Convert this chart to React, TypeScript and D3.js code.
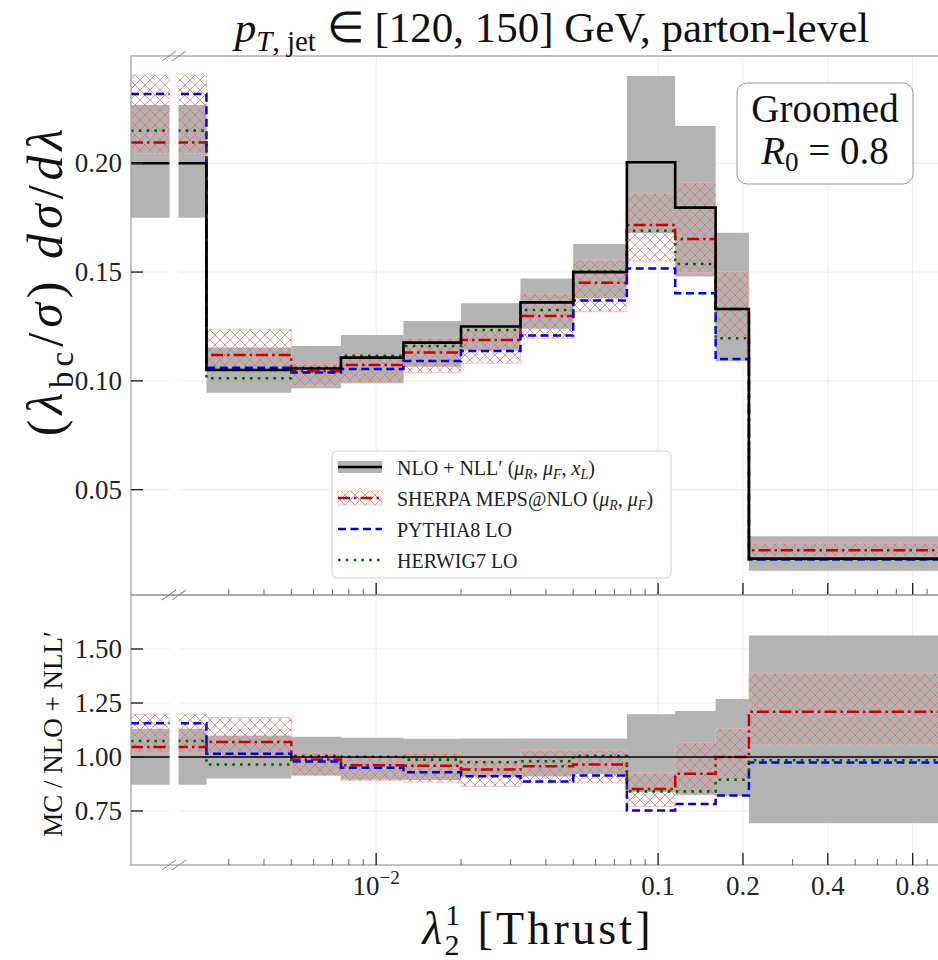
import React, { useRef, useEffect } from "react";
import * as d3 from "d3";

// bin edges in lambda_2^1 ; the first bin starts at the axis break
const binEdges = [0, 0.0025, 0.005, 0.0075, 0.0125, 0.02, 0.0325, 0.05, 0.0775, 0.115, 0.16, 0.21, 1];
const xLo = 0.00135;
const breakLo = 0.00185;
const breakHi = 0.00199;
const xMajor = [0.01, 0.1, 0.2, 0.4, 0.8];
const xMajorLabels = ["10^-2", "0.1", "0.2", "0.4", "0.8"];
const xMinor = [0.003, 0.004, 0.005, 0.006, 0.007, 0.008, 0.009, 0.02, 0.03, 0.04, 0.05, 0.06, 0.07, 0.08, 0.09, 0.3, 0.5, 0.6, 0.7, 0.9];

// main panel
const topTicks = [0.05, 0.1, 0.15, 0.2];
const nloCentral = [0.2, 0.105, 0.1057, 0.1107, 0.1176, 0.125, 0.1361, 0.15, 0.2005, 0.1796, 0.133, 0.0183];
const nloLow = [0.175, 0.0945, 0.0966, 0.0989, 0.1065, 0.114, 0.124, 0.138, 0.168, 0.148, 0.109, 0.0128];
const nloHigh = [0.2268, 0.1153, 0.116, 0.1211, 0.1275, 0.1357, 0.1471, 0.1629, 0.2401, 0.2171, 0.1681, 0.0286];
const sherpa = [0.2095, 0.1119, 0.1044, 0.1073, 0.113, 0.1188, 0.1298, 0.1451, 0.1716, 0.1652, 0.133, 0.0222];
const sherpaLow = [0.2046, 0.105, 0.0977, 0.0992, 0.1038, 0.1081, 0.1196, 0.1318, 0.1552, 0.1497, 0.1196, 0.0195];
const sherpaHigh = [0.2406, 0.1237, 0.1084, 0.1119, 0.12, 0.1234, 0.1402, 0.1556, 0.1862, 0.1911, 0.1502, 0.0255];
const pythia = [0.2318, 0.106, 0.1038, 0.1055, 0.1091, 0.1137, 0.1208, 0.1369, 0.1517, 0.1403, 0.11, 0.0179];
const herwig = [0.215, 0.1012, 0.106, 0.1115, 0.116, 0.1234, 0.1326, 0.1502, 0.169, 0.1537, 0.1196, 0.018];

// ratio panel
const ratioTicks = [0.75, 1.0, 1.25, 1.5];
const ratioNlo = [1, 1, 1, 1, 1, 1, 1, 1, 1, 1, 1, 1];
const ratioNloLow = [0.872, 0.9, 0.914, 0.895, 0.893, 0.91, 0.91, 0.92, 0.838, 0.825, 0.82, 0.693];
const ratioNloHigh = [1.131, 1.1, 1.094, 1.089, 1.085, 1.086, 1.086, 1.086, 1.198, 1.213, 1.268, 1.563];
const ratioSherpa = [1.046, 1.069, 0.988, 0.962, 0.96, 0.942, 0.957, 0.965, 0.852, 0.922, 1.0, 1.21];
const ratioSherpaLow = [1.02, 1.0, 0.914, 0.89, 0.883, 0.864, 0.88, 0.88, 0.771, 0.825, 0.895, 1.055];
const ratioSherpaHigh = [1.198, 1.183, 1.02, 1.004, 1.022, 0.99, 1.032, 1.032, 0.926, 1.066, 1.131, 1.388];
const ratioPythia = [1.156, 1.015, 0.979, 0.95, 0.929, 0.911, 0.887, 0.914, 0.752, 0.782, 0.822, 0.975];
const ratioHerwig = [1.074, 0.965, 1.004, 1.001, 0.988, 0.976, 0.98, 1.004, 0.841, 0.841, 0.895, 0.985];

const legendItems = ["NLO", "SHERPA", "PYTHIA", "HERWIG"];

const font = "'Liberation Serif', serif";
const red = "#cc0000";
const blue = "#0000e6";
const green = "#006400";
const gray = "#b3b3b3";

const App = () => {
  const svgRef = useRef<SVGSVGElement>(null);

  useEffect(() => {
    document.body.style.margin = "0";
    const svg = d3.select(svgRef.current);
    svg.selectAll("*").remove();

    const x = d3.scaleLog().domain([xLo, 1]).range([131, 940]);
    const yTop = d3.scaleLinear().domain([0.0016, 0.2493]).range([595, 56]);
    const yBot = d3.scaleLinear().domain([0.5, 1.75]).range([865, 595]);
    const edge = (i: number) => Math.max(binEdges[i], xLo);

    const defs = svg.append("defs");
    const pat = defs.append("pattern").attr("id", "hatch")
      .attr("patternUnits", "userSpaceOnUse").attr("width", 10).attr("height", 10);
    pat.append("path").attr("d", "M0,0L10,10M10,0L0,10M-2,8L2,12M8,-2L12,2M-2,2L2,-2M8,12L12,8")
      .attr("stroke", "#e07070").attr("stroke-width", 0.8).attr("fill", "none");

    //step points from bin values
    const steps = (vals: number[]) => {
      const pts: [number, number][] = [];
      vals.forEach((v, i) => { pts.push([edge(i), v]); pts.push([edge(i + 1), v]); });
      return pts;
    };
    const bandPts = (lo: number[], hi: number[]) => {
      const pts: [number, number, number][] = [];
      lo.forEach((v, i) => { pts.push([edge(i), v, hi[i]]); pts.push([edge(i + 1), v, hi[i]]); });
      return pts;
    };

    const drawPanel = (id: string, y: d3.ScaleLinear<number, number>, ticks: number[],
      d: { nlo: number[], nloLo: number[], nloHi: number[], sh: number[], shLo: number[], shHi: number[], py: number[], hw: number[] },
      nloWidth: number, withLabels: boolean) => {
      const [y1, y0] = y.range();
      defs.append("clipPath").attr("id", id).append("rect")
        .attr("x", 131).attr("y", y0).attr("width", 809).attr("height", y1 - y0);
      const g = svg.append("g");
      const inner = g.append("g").attr("clip-path", `url(#${id})`);

      //grid
      inner.selectAll(".hg").data(ticks).enter().append("line")
        .attr("x1", 131).attr("x2", 940).attr("y1", v => y(v)).attr("y2", v => y(v))
        .attr("stroke", "#ececec").attr("stroke-width", 1);
      inner.selectAll(".vg").data(xMajor).enter().append("line")
        .attr("x1", v => x(v)).attr("x2", v => x(v)).attr("y1", y0).attr("y2", y1)
        .attr("stroke", "#ececec").attr("stroke-width", 1);

      const area = d3.area<[number, number, number]>().x(p => x(p[0])).y0(p => y(p[1])).y1(p => y(p[2]));
      const line = d3.line<[number, number]>().x(p => x(p[0])).y(p => y(p[1]));

      inner.append("path").attr("d", area(bandPts(d.nloLo, d.nloHi))).attr("fill", gray);
      inner.append("path").attr("d", area(bandPts(d.shLo, d.shHi)))
        .attr("fill", "url(#hatch)").attr("stroke", "#f2b0b0").attr("stroke-width", 0.7);

      inner.append("path").attr("d", line(steps(d.sh))).attr("fill", "none")
        .attr("stroke", red).attr("stroke-width", 2.5).attr("stroke-dasharray", "12,4,2.5,4");
      inner.append("path").attr("d", line(steps(d.py))).attr("fill", "none")
        .attr("stroke", blue).attr("stroke-width", 2.5).attr("stroke-dasharray", "8,4.5");
      inner.append("path").attr("d", line(steps(d.hw))).attr("fill", "none")
        .attr("stroke", green).attr("stroke-width", 2.6).attr("stroke-dasharray", "2.6,5.2");
      inner.append("path").attr("d", line(steps(d.nlo))).attr("fill", "none")
        .attr("stroke", "#000").attr("stroke-width", nloWidth);

      //axis break gap
      inner.append("rect").attr("x", x(breakLo)).attr("width", x(breakHi) - x(breakLo))
        .attr("y", y0 + 1).attr("height", y1 - y0 - 2).attr("fill", "#fff");

      //frame
      g.append("rect").attr("x", 131).attr("y", y0).attr("width", 809).attr("height", y1 - y0)
        .attr("fill", "none").attr("stroke", "#9a9a9a").attr("stroke-width", 1.2);

      //y ticks
      g.selectAll(".yt").data(ticks).enter().append("line")
        .attr("x1", 131).attr("x2", 143).attr("y1", v => y(v)).attr("y2", v => y(v))
        .attr("stroke", "#222").attr("stroke-width", 1.4);
      g.selectAll(".yl").data(ticks).enter().append("text")
        .attr("x", 122).attr("y", v => y(v) + 9).attr("text-anchor", "end")
        .attr("font-family", font).attr("font-size", 27).attr("fill", "#222")
        .text(v => v.toFixed(2));

      //x ticks on the bottom edge, pointing in
      g.selectAll(".xt").data(xMajor).enter().append("line")
        .attr("x1", v => x(v)).attr("x2", v => x(v)).attr("y1", y1).attr("y2", y1 - 12)
        .attr("stroke", "#222").attr("stroke-width", 1.4);
      g.selectAll(".xm").data(xMinor).enter().append("line")
        .attr("x1", v => x(v)).attr("x2", v => x(v)).attr("y1", y1).attr("y2", y1 - 6)
        .attr("stroke", "#555").attr("stroke-width", 0.9);

      //break marks
      [y0, y1].forEach(yy => {
        [0, 10].forEach(off => {
          g.append("line").attr("x1", 162 + off).attr("y1", yy + 5).attr("x2", 176 + off).attr("y2", yy - 5)
            .attr("stroke", "#888").attr("stroke-width", 1);
        });
      });

      if (withLabels) {
        xMajor.forEach((v, i) => {
          const t = g.append("text").attr("x", x(v)).attr("y", y1 + 30).attr("text-anchor", "middle")
            .attr("font-family", font).attr("font-size", 27).attr("fill", "#222");
          if (xMajorLabels[i] === "10^-2") {
            t.append("tspan").text("10");
            t.append("tspan").attr("dy", -11).attr("font-size", 19).text("−2");
          } else {
            t.text(xMajorLabels[i]);
          }
        });
      }
    };

    drawPanel("clipTop", yTop, topTicks,
      { nlo: nloCentral, nloLo: nloLow, nloHi: nloHigh, sh: sherpa, shLo: sherpaLow, shHi: sherpaHigh, py: pythia, hw: herwig },
      2.6, false);
    drawPanel("clipBot", yBot, ratioTicks,
      { nlo: ratioNlo, nloLo: ratioNloLow, nloHi: ratioNloHigh, sh: ratioSherpa, shLo: ratioSherpaLow, shHi: ratioSherpaHigh, py: ratioPythia, hw: ratioHerwig },
      1.4, true);

    //title
    const title = svg.append("text").attr("x", 552).attr("y", 42).attr("text-anchor", "middle")
      .attr("font-family", font).attr("font-size", 43).attr("fill", "#111");
    title.append("tspan").attr("font-style", "italic").text("p");
    title.append("tspan").attr("font-style", "italic").attr("font-size", 29).attr("dy", 9).text("T");
    title.append("tspan").attr("font-size", 29).text(", jet");
    title.append("tspan").attr("dy", -9).text(" ∈ [120, 150] GeV, parton-level");

    //y labels
    const yl = svg.append("text").attr("transform", "translate(62,280) rotate(-90)").attr("text-anchor", "middle")
      .attr("font-family", font).attr("font-size", 50).attr("letter-spacing", 5).attr("fill", "#111");
    yl.append("tspan").text("(");
    yl.append("tspan").attr("font-style", "italic").text("λ");
    yl.append("tspan").attr("font-size", 33).attr("dy", 11).text("bc");
    yl.append("tspan").attr("dy", -11).text("/");
    yl.append("tspan").attr("font-style", "italic").text("σ");
    yl.append("tspan").text(") ");
    yl.append("tspan").attr("font-style", "italic").text("dσ");
    yl.append("tspan").text("/");
    yl.append("tspan").attr("font-style", "italic").text("dλ");

    svg.append("text").attr("transform", "translate(62,734) rotate(-90)").attr("text-anchor", "middle")
      .attr("font-family", font).attr("font-size", 27).attr("fill", "#111")
      .text("MC / NLO + NLL′");

    //x label
    const xl = svg.append("text").attr("x", 538).attr("y", 944).attr("text-anchor", "middle")
      .attr("font-family", font).attr("font-size", 46).attr("letter-spacing", 3.2).attr("fill", "#111");
    xl.append("tspan").attr("font-style", "italic").text("λ");
    xl.append("tspan").attr("font-size", 30).attr("dy", -19).text("1");
    xl.append("tspan").attr("font-size", 30).attr("dx", -19).attr("dy", 30).text("2");
    xl.append("tspan").attr("dy", -11).text(" [Thrust]");

    //legend
    const lg = svg.append("g");
    lg.append("rect").attr("x", 332).attr("y", 451).attr("width", 339).attr("height", 127).attr("rx", 5)
      .attr("fill", "#fff").attr("fill-opacity", 0.85).attr("stroke", "#d0d0d0").attr("stroke-width", 1);
    const rowY = d3.scalePoint<string>().domain(legendItems).range([467, 560]);
    const h0 = 338, h1 = 382;
    lg.append("rect").attr("x", h0).attr("y", rowY("NLO")! - 6).attr("width", h1 - h0).attr("height", 12).attr("fill", gray);
    lg.append("line").attr("x1", h0).attr("x2", h1).attr("y1", rowY("NLO")!).attr("y2", rowY("NLO")!)
      .attr("stroke", "#000").attr("stroke-width", 2.6);
    lg.append("rect").attr("x", h0).attr("y", rowY("SHERPA")! - 7).attr("width", h1 - h0).attr("height", 14)
      .attr("fill", "url(#hatch)").attr("stroke", "#f2b0b0").attr("stroke-width", 0.7);
    lg.append("line").attr("x1", h0).attr("x2", h1).attr("y1", rowY("SHERPA")!).attr("y2", rowY("SHERPA")!)
      .attr("stroke", red).attr("stroke-width", 2.5).attr("stroke-dasharray", "12,4,2.5,4");
    lg.append("line").attr("x1", h0).attr("x2", h1).attr("y1", rowY("PYTHIA")!).attr("y2", rowY("PYTHIA")!)
      .attr("stroke", blue).attr("stroke-width", 2.5).attr("stroke-dasharray", "8,4.5");
    lg.append("line").attr("x1", h0).attr("x2", h1).attr("y1", rowY("HERWIG")!).attr("y2", rowY("HERWIG")!)
      .attr("stroke", green).attr("stroke-width", 2.6).attr("stroke-dasharray", "2.6,5.2");

    const lt = (key: string) => lg.append("text").attr("x", 397).attr("y", rowY(key)! + 8)
      .attr("font-family", font).attr("font-size", 20).attr("fill", "#222");
    const t1 = lt("NLO");
    t1.append("tspan").text("NLO + NLL′ (");
    t1.append("tspan").attr("font-style", "italic").text("μ");
    t1.append("tspan").attr("font-style", "italic").attr("font-size", 14).attr("dy", 4).text("R");
    t1.append("tspan").attr("dy", -4).text(", ");
    t1.append("tspan").attr("font-style", "italic").text("μ");
    t1.append("tspan").attr("font-style", "italic").attr("font-size", 14).attr("dy", 4).text("F");
    t1.append("tspan").attr("dy", -4).text(", ");
    t1.append("tspan").attr("font-style", "italic").text("x");
    t1.append("tspan").attr("font-style", "italic").attr("font-size", 14).attr("dy", 4).text("L");
    t1.append("tspan").attr("dy", -4).text(")");
    const t2 = lt("SHERPA");
    t2.append("tspan").text("SHERPA MEPS@NLO (");
    t2.append("tspan").attr("font-style", "italic").text("μ");
    t2.append("tspan").attr("font-style", "italic").attr("font-size", 14).attr("dy", 4).text("R");
    t2.append("tspan").attr("dy", -4).text(", ");
    t2.append("tspan").attr("font-style", "italic").text("μ");
    t2.append("tspan").attr("font-style", "italic").attr("font-size", 14).attr("dy", 4).text("F");
    t2.append("tspan").attr("dy", -4).text(")");
    lt("PYTHIA").text("PYTHIA8 LO");
    lt("HERWIG").text("HERWIG7 LO");

    //groomed box
    const gb = svg.append("g");
    gb.append("rect").attr("x", 737).attr("y", 83).attr("width", 176).attr("height", 101).attr("rx", 10)
      .attr("fill", "#fff").attr("stroke", "#999").attr("stroke-width", 1);
    gb.append("text").attr("x", 825).attr("y", 122).attr("text-anchor", "middle")
      .attr("font-family", font).attr("font-size", 39).attr("fill", "#111").text("Groomed");
    const rt = gb.append("text").attr("x", 825).attr("y", 164).attr("text-anchor", "middle")
      .attr("font-family", font).attr("font-size", 39).attr("fill", "#111");
    rt.append("tspan").attr("font-style", "italic").text("R");
    rt.append("tspan").attr("font-size", 27).attr("dy", 7).text("0");
    rt.append("tspan").attr("dy", -7).text(" = 0.8");
  }, []);

  return <svg ref={svgRef} width={938} height={960} style={{ display: "block", background: "#fff" }} />;
};

export default App;
